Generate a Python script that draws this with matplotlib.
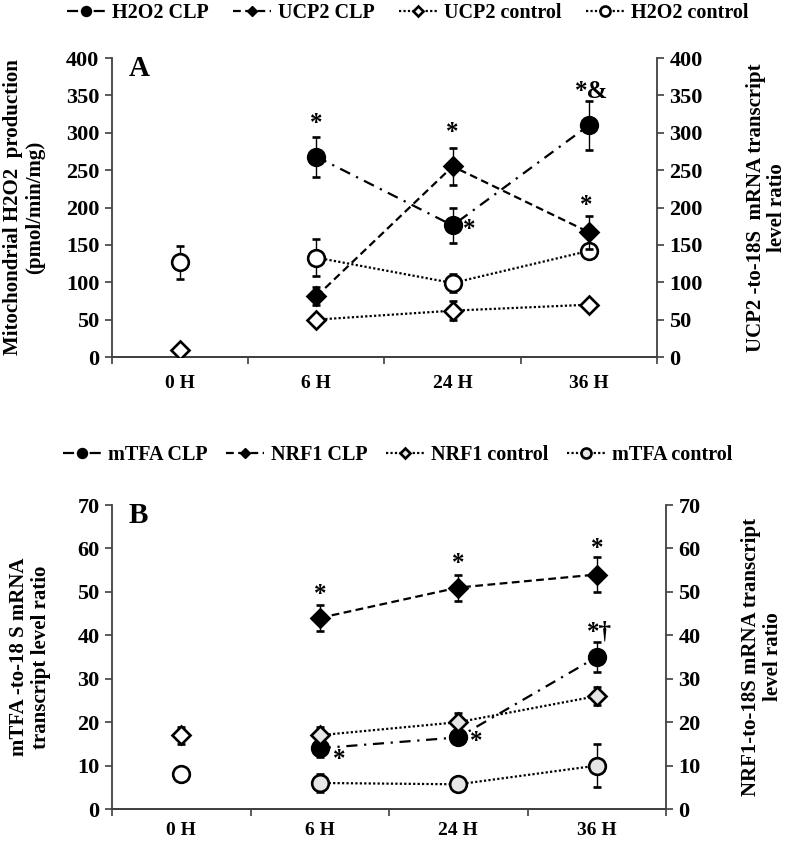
import numpy as np
import matplotlib
matplotlib.use('Agg')
import matplotlib.pyplot as plt
from matplotlib.lines import Line2D

plt.rcParams['font.family'] = ['Liberation Serif', 'DejaVu Serif']
plt.rcParams['font.weight'] = 'bold'

# categories
horas = ['0 H', '6 H', '24 H', '36 H']

# panel A (0 H has no CLP value)
h2o2_clp = [np.nan, 268, 176, 310]
h2o2_clp_err = [np.nan, 27, 23, 33]
ucp2_clp = [np.nan, 81, 255, 167]
ucp2_clp_err = [np.nan, 12, 25, 22]
ucp2_ctrl = [10, 50, 62, 70]
ucp2_ctrl_err = [3, 3, 13, 3]
h2o2_ctrl = [127, 133, 99, 142]
h2o2_ctrl_err = [22, 25, 12, 5]

# panel B
mtfa_clp = [np.nan, 14, 16.5, 35]
mtfa_clp_err = [np.nan, 2, 1.5, 3.5]
nrf1_clp = [np.nan, 44, 51, 54]
nrf1_clp_err = [np.nan, 3, 3, 4]
nrf1_ctrl = [17, 17, 20, 26]
nrf1_ctrl_err = [2, 2, 2, 2]
mtfa_ctrl = [8, 6, 5.7, 10]
mtfa_ctrl_err = [1, 2, 1, 5]

# significance marks: (label, category index, y value, dx)
marcas_a = [('*', 1, 313, 0), ('*', 2, 301, 0), ('*', 2, 170, 0.12),
            ('*&', 3, 355, 0.02), ('*', 3, 203, -0.02)]
marcas_b = [('*', 1, 49.5, 0), ('*', 1, 11.5, 0.14), ('*', 2, 56.5, 0),
            ('*', 2, 15.5, 0.13), ('*', 3, 60, 0), ('*\u2020', 3, 40.8, 0.02)]

DASHDOT = (0, (5, 3, 1, 3))
DASHED = (0, (3.5, 2))
DOTTED = (0, (1, 1))
GRIS = '#e6e6e6'
EJE = '#404040'
FS = 14
FS_Y = 16
FS_LAB = 15
MS_O = 12
MS_D = 9

x = np.arange(len(horas))


def serie(ax, y, err, marker, ls, face, face0='white', ms=MS_O):
    y = np.array(y, dtype=float)
    err = np.array(err, dtype=float)
    # points 6H..36H joined by a line
    ax.errorbar(x[1:], y[1:], yerr=err[1:], fmt=marker, ls=ls, color='black',
                lw=1.6, ms=ms, mfc=face, mec='black', mew=1.9,
                ecolor='black', elinewidth=1.0, capsize=3, capthick=1.0, zorder=3)
    if not np.isnan(y[0]):
        ax.errorbar(x[:1], y[:1], yerr=err[:1], fmt=marker, color='black',
                    ms=ms, mfc=face0, mec='black', mew=1.9,
                    ecolor='black', elinewidth=1.0, capsize=3, capthick=1.0, zorder=3)


def estilo(ax, ymax, paso, lado, pad_x):
    ax.set_xlim(-0.5, 3.5)
    ax.set_ylim(0, ymax)
    ax.set_yticks(np.arange(0, ymax + 1, paso))
    ax.spines['top'].set_visible(False)
    for s in ['left', 'right', 'bottom']:
        ax.spines[s].set_color(EJE)
        ax.spines[s].set_linewidth(1.3)
    if lado == 'left':
        ax.spines['right'].set_visible(False)
    else:
        ax.spines['left'].set_visible(False)
    ax.set_xticks([-0.5, 0.5, 1.5, 2.5, 3.5])
    ax.set_xticklabels([])
    ax.set_xticks(x, minor=True)
    ax.set_xticklabels(horas, minor=True, fontsize=FS, fontweight='bold')
    ax.tick_params(axis='x', which='major', direction='out', length=5, color=EJE, width=1.2)
    ax.tick_params(axis='x', which='minor', length=0, pad=pad_x)
    ax.tick_params(axis='y', direction='out', length=5, color=EJE, width=1.2,
                   labelsize=FS_Y, pad=4)
    for t in ax.get_yticklabels():
        t.set_fontweight('bold')


def leyenda(fig, handles, labels, ycen, xcen, colsp):
    fig.legend(handles, labels, loc='center', bbox_to_anchor=(xcen, ycen), ncol=4,
               frameon=False, fontsize=FS + 0.5, handlelength=1.9, handletextpad=0.35,
               columnspacing=colsp, markerscale=0.6, borderaxespad=0)


fig = plt.figure(figsize=(7.87, 8.41), dpi=100)

# ---------- panel A ----------
axA = fig.add_axes([0.1423, 0.5755, 0.6925, 0.3555])
axA2 = axA.twinx()
serie(axA, h2o2_clp, h2o2_clp_err, 'o', DASHDOT, 'black')
serie(axA, h2o2_ctrl, h2o2_ctrl_err, 'o', DOTTED, 'white')
serie(axA2, ucp2_clp, ucp2_clp_err, 'D', DASHED, 'black', ms=MS_D)
serie(axA2, ucp2_ctrl, ucp2_ctrl_err, 'D', DOTTED, 'white', ms=MS_D)
estilo(axA, 400, 50, 'left', 13)
estilo(axA2, 400, 50, 'right', 13)
axA2.tick_params(axis='x', which='both', length=0, labelbottom=False)
axA.set_ylabel('Mitochondrial H2O2  production\n(pmol/min/mg)', fontsize=FS_LAB,
               fontweight='bold', linespacing=1.15, labelpad=15)
axA2.set_ylabel('UCP2 -to-18S  mRNA transcript\nlevel ratio', fontsize=FS_LAB,
                fontweight='bold', linespacing=1.1, rotation=90, labelpad=31)
axA.text(0.03, 1.01, 'A', transform=axA.transAxes, fontsize=21, fontweight='bold',
         va='top', ha='left')
for txt, i, yv, dx in marcas_a:
    axA2.text(i + dx, yv, txt, fontsize=18, fontweight='bold', ha='center', va='center')

hA = [Line2D([], [], ls=DASHDOT, color='black', lw=1.6, marker='o', ms=MS_O, mfc='black', mec='black'),
      Line2D([], [], ls=DASHED, color='black', lw=1.6, marker='D', ms=MS_D, mfc='black', mec='black'),
      Line2D([], [], ls=DOTTED, color='black', lw=1.6, marker='D', ms=MS_D, mfc='white', mec='black', mew=1.9),
      Line2D([], [], ls=DOTTED, color='black', lw=1.6, marker='o', ms=MS_O, mfc='white', mec='black', mew=1.9)]
leyenda(fig, hA, ['H2O2 CLP', 'UCP2 CLP', 'UCP2 control', 'H2O2 control'], 1 - 13 / 841, 0.518, 1.2)

# ---------- panel B ----------
axB = fig.add_axes([0.1423, 0.0380, 0.7040, 0.3615])
axB2 = axB.twinx()
serie(axB, mtfa_clp, mtfa_clp_err, 'o', DASHDOT, 'black')
serie(axB, mtfa_ctrl, mtfa_ctrl_err, 'o', DOTTED, GRIS)
serie(axB2, nrf1_clp, nrf1_clp_err, 'D', DASHED, 'black', ms=MS_D)
serie(axB2, nrf1_ctrl, nrf1_ctrl_err, 'D', DOTTED, GRIS, ms=MS_D)
estilo(axB, 70, 10, 'left', 9)
estilo(axB2, 70, 10, 'right', 9)
axB2.tick_params(axis='x', which='both', length=0, labelbottom=False)
axB.set_ylabel('mTFA -to-18 S mRNA\ntranscript level ratio', fontsize=FS_LAB,
               fontweight='bold', linespacing=1.1, labelpad=19)
axB2.set_ylabel('NRF1-to-18S mRNA transcript\nlevel ratio', fontsize=FS_LAB,
                fontweight='bold', linespacing=1.1, rotation=90, labelpad=29)
axB.text(0.03, 1.01, 'B', transform=axB.transAxes, fontsize=21, fontweight='bold',
         va='top', ha='left')
for txt, i, yv, dx in marcas_b:
    axB2.text(i + dx, yv, txt, fontsize=18, fontweight='bold', ha='center', va='center')

hB = [Line2D([], [], ls=DASHDOT, color='black', lw=1.6, marker='o', ms=MS_O, mfc='black', mec='black'),
      Line2D([], [], ls=DASHED, color='black', lw=1.6, marker='D', ms=MS_D, mfc='black', mec='black'),
      Line2D([], [], ls=DOTTED, color='black', lw=1.6, marker='D', ms=MS_D, mfc=GRIS, mec='black', mew=1.9),
      Line2D([], [], ls=DOTTED, color='black', lw=1.6, marker='o', ms=MS_O, mfc=GRIS, mec='black', mew=1.9)]
leyenda(fig, hB, ['mTFA CLP', 'NRF1 CLP', 'NRF1 control', 'mTFA control'], 1 - 455 / 841, 0.505, 0.9)

fig.savefig('out.png', dpi=100)
